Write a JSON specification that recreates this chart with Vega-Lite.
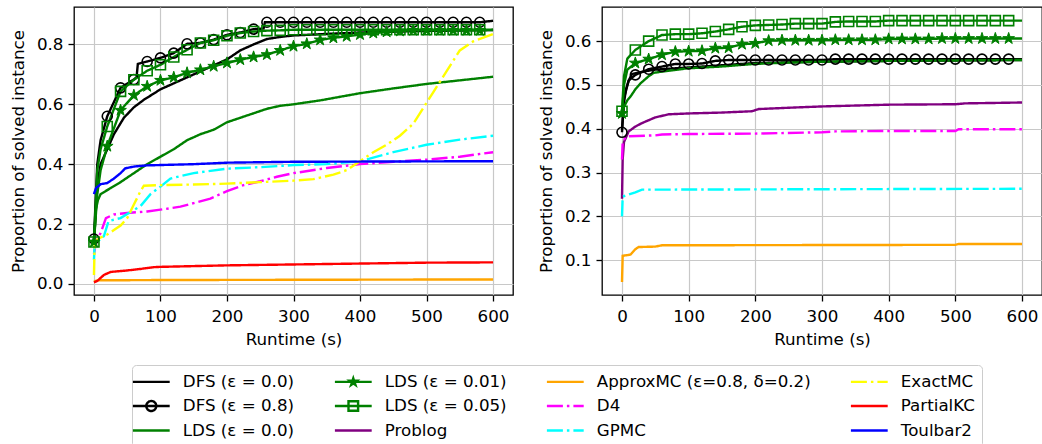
{
"$schema":"https://vega.github.io/schema/vega-lite/v6.json",
"padding":{"left":10,"top":6,"right":0,"bottom":0},
"config":{
 "font":"DejaVu Sans",
 "view":{"stroke":"black","strokeWidth":1.3},
 "axis":{"labelFont":"DejaVu Sans","labelFontSize":16.7,"labelColor":"black","titleFont":"DejaVu Sans","titleFontSize":16.7,"titleFontWeight":"normal","titleColor":"black","tickColor":"black","tickSize":6,"tickWidth":1.3,"domain":false,"gridColor":"#c8c8c8","gridWidth":1.2},
 "axisX":{"labelPadding":7,"titlePadding":7},
 "axisY":{"labelPadding":5,"titlePadding":8.5},
 "legend":{"labelFont":"DejaVu Sans","labelFontSize":16.7,"labelColor":"black"}
},
"data":{"name":"d"},
"datasets":{"d":[
{"g":"L","m":"DFS (ε = 0.0)","t":0,"p":0.14},{"g":"L","m":"DFS (ε = 0.0)","t":5,"p":0.33},{"g":"L","m":"DFS (ε = 0.0)","t":10,"p":0.40},{"g":"L","m":"DFS (ε = 0.0)","t":20,"p":0.45},{"g":"L","m":"DFS (ε = 0.0)","t":30,"p":0.50},{"g":"L","m":"DFS (ε = 0.0)","t":45,"p":0.555},{"g":"L","m":"DFS (ε = 0.0)","t":60,"p":0.59},{"g":"L","m":"DFS (ε = 0.0)","t":75,"p":0.615},{"g":"L","m":"DFS (ε = 0.0)","t":100,"p":0.65},{"g":"L","m":"DFS (ε = 0.0)","t":125,"p":0.675},{"g":"L","m":"DFS (ε = 0.0)","t":150,"p":0.70},{"g":"L","m":"DFS (ε = 0.0)","t":175,"p":0.725},{"g":"L","m":"DFS (ε = 0.0)","t":200,"p":0.75},{"g":"L","m":"DFS (ε = 0.0)","t":220,"p":0.78},{"g":"L","m":"DFS (ε = 0.0)","t":240,"p":0.80},{"g":"L","m":"DFS (ε = 0.0)","t":260,"p":0.818},{"g":"L","m":"DFS (ε = 0.0)","t":280,"p":0.825},{"g":"L","m":"DFS (ε = 0.0)","t":300,"p":0.83},{"g":"L","m":"DFS (ε = 0.0)","t":350,"p":0.835},{"g":"L","m":"DFS (ε = 0.0)","t":400,"p":0.84},{"g":"L","m":"DFS (ε = 0.0)","t":500,"p":0.845},{"g":"L","m":"DFS (ε = 0.0)","t":600,"p":0.848},
{"g":"L","m":"DFS (ε = 0.8)","t":0,"p":0.15,"k":1},{"g":"L","m":"DFS (ε = 0.8)","t":5,"p":0.40},{"g":"L","m":"DFS (ε = 0.8)","t":10,"p":0.48},{"g":"L","m":"DFS (ε = 0.8)","t":20,"p":0.56,"k":1},{"g":"L","m":"DFS (ε = 0.8)","t":40,"p":0.655,"k":1},{"g":"L","m":"DFS (ε = 0.8)","t":60,"p":0.683,"k":1},{"g":"L","m":"DFS (ε = 0.8)","t":64,"p":0.69},{"g":"L","m":"DFS (ε = 0.8)","t":66,"p":0.735},{"g":"L","m":"DFS (ε = 0.8)","t":80,"p":0.743,"k":1},{"g":"L","m":"DFS (ε = 0.8)","t":100,"p":0.755,"k":1},{"g":"L","m":"DFS (ε = 0.8)","t":120,"p":0.771,"k":1},{"g":"L","m":"DFS (ε = 0.8)","t":140,"p":0.802,"k":1},{"g":"L","m":"DFS (ε = 0.8)","t":160,"p":0.805,"k":1},{"g":"L","m":"DFS (ε = 0.8)","t":180,"p":0.816,"k":1},{"g":"L","m":"DFS (ε = 0.8)","t":200,"p":0.832,"k":1},{"g":"L","m":"DFS (ε = 0.8)","t":220,"p":0.84,"k":1},{"g":"L","m":"DFS (ε = 0.8)","t":240,"p":0.851,"k":1},{"g":"L","m":"DFS (ε = 0.8)","t":255,"p":0.853},{"g":"L","m":"DFS (ε = 0.8)","t":257,"p":0.874},{"g":"L","m":"DFS (ε = 0.8)","t":260,"p":0.874,"k":1},{"g":"L","m":"DFS (ε = 0.8)","t":280,"p":0.874,"k":1},{"g":"L","m":"DFS (ε = 0.8)","t":300,"p":0.874,"k":1},{"g":"L","m":"DFS (ε = 0.8)","t":320,"p":0.874,"k":1},{"g":"L","m":"DFS (ε = 0.8)","t":340,"p":0.874,"k":1},{"g":"L","m":"DFS (ε = 0.8)","t":360,"p":0.874,"k":1},{"g":"L","m":"DFS (ε = 0.8)","t":380,"p":0.874,"k":1},{"g":"L","m":"DFS (ε = 0.8)","t":400,"p":0.874,"k":1},{"g":"L","m":"DFS (ε = 0.8)","t":420,"p":0.874,"k":1},{"g":"L","m":"DFS (ε = 0.8)","t":440,"p":0.874,"k":1},{"g":"L","m":"DFS (ε = 0.8)","t":460,"p":0.874,"k":1},{"g":"L","m":"DFS (ε = 0.8)","t":480,"p":0.874,"k":1},{"g":"L","m":"DFS (ε = 0.8)","t":500,"p":0.874,"k":1},{"g":"L","m":"DFS (ε = 0.8)","t":520,"p":0.874,"k":1},{"g":"L","m":"DFS (ε = 0.8)","t":540,"p":0.874,"k":1},{"g":"L","m":"DFS (ε = 0.8)","t":560,"p":0.874,"k":1},{"g":"L","m":"DFS (ε = 0.8)","t":580,"p":0.874,"k":1},{"g":"L","m":"DFS (ε = 0.8)","t":600,"p":0.879},
{"g":"L","m":"LDS (ε = 0.0)","t":0,"p":0.14},{"g":"L","m":"LDS (ε = 0.0)","t":3,"p":0.25},{"g":"L","m":"LDS (ε = 0.0)","t":6,"p":0.28},{"g":"L","m":"LDS (ε = 0.0)","t":10,"p":0.30},{"g":"L","m":"LDS (ε = 0.0)","t":25,"p":0.32},{"g":"L","m":"LDS (ε = 0.0)","t":40,"p":0.34},{"g":"L","m":"LDS (ε = 0.0)","t":60,"p":0.37},{"g":"L","m":"LDS (ε = 0.0)","t":80,"p":0.40},{"g":"L","m":"LDS (ε = 0.0)","t":100,"p":0.425},{"g":"L","m":"LDS (ε = 0.0)","t":120,"p":0.45},{"g":"L","m":"LDS (ε = 0.0)","t":140,"p":0.48},{"g":"L","m":"LDS (ε = 0.0)","t":160,"p":0.50},{"g":"L","m":"LDS (ε = 0.0)","t":180,"p":0.515},{"g":"L","m":"LDS (ε = 0.0)","t":200,"p":0.54},{"g":"L","m":"LDS (ε = 0.0)","t":220,"p":0.555},{"g":"L","m":"LDS (ε = 0.0)","t":240,"p":0.57},{"g":"L","m":"LDS (ε = 0.0)","t":260,"p":0.585},{"g":"L","m":"LDS (ε = 0.0)","t":280,"p":0.595},{"g":"L","m":"LDS (ε = 0.0)","t":300,"p":0.60},{"g":"L","m":"LDS (ε = 0.0)","t":340,"p":0.613},{"g":"L","m":"LDS (ε = 0.0)","t":400,"p":0.637},{"g":"L","m":"LDS (ε = 0.0)","t":450,"p":0.653},{"g":"L","m":"LDS (ε = 0.0)","t":500,"p":0.668},{"g":"L","m":"LDS (ε = 0.0)","t":550,"p":0.68},{"g":"L","m":"LDS (ε = 0.0)","t":600,"p":0.692},
{"g":"L","m":"LDS (ε = 0.01)","t":0,"p":0.14,"k":1},{"g":"L","m":"LDS (ε = 0.01)","t":5,"p":0.30},{"g":"L","m":"LDS (ε = 0.01)","t":10,"p":0.38},{"g":"L","m":"LDS (ε = 0.01)","t":20,"p":0.46,"k":1},{"g":"L","m":"LDS (ε = 0.01)","t":40,"p":0.58,"k":1},{"g":"L","m":"LDS (ε = 0.01)","t":60,"p":0.63,"k":1},{"g":"L","m":"LDS (ε = 0.01)","t":80,"p":0.66,"k":1},{"g":"L","m":"LDS (ε = 0.01)","t":100,"p":0.68,"k":1},{"g":"L","m":"LDS (ε = 0.01)","t":120,"p":0.69,"k":1},{"g":"L","m":"LDS (ε = 0.01)","t":140,"p":0.705,"k":1},{"g":"L","m":"LDS (ε = 0.01)","t":160,"p":0.715,"k":1},{"g":"L","m":"LDS (ε = 0.01)","t":180,"p":0.727,"k":1},{"g":"L","m":"LDS (ε = 0.01)","t":200,"p":0.738,"k":1},{"g":"L","m":"LDS (ε = 0.01)","t":220,"p":0.749,"k":1},{"g":"L","m":"LDS (ε = 0.01)","t":240,"p":0.758,"k":1},{"g":"L","m":"LDS (ε = 0.01)","t":260,"p":0.766,"k":1},{"g":"L","m":"LDS (ε = 0.01)","t":280,"p":0.78,"k":1},{"g":"L","m":"LDS (ε = 0.01)","t":300,"p":0.794,"k":1},{"g":"L","m":"LDS (ε = 0.01)","t":320,"p":0.802,"k":1},{"g":"L","m":"LDS (ε = 0.01)","t":340,"p":0.815,"k":1},{"g":"L","m":"LDS (ε = 0.01)","t":360,"p":0.822,"k":1},{"g":"L","m":"LDS (ε = 0.01)","t":380,"p":0.827,"k":1},{"g":"L","m":"LDS (ε = 0.01)","t":400,"p":0.833,"k":1},{"g":"L","m":"LDS (ε = 0.01)","t":420,"p":0.838,"k":1},{"g":"L","m":"LDS (ε = 0.01)","t":440,"p":0.842,"k":1},{"g":"L","m":"LDS (ε = 0.01)","t":460,"p":0.845,"k":1},{"g":"L","m":"LDS (ε = 0.01)","t":480,"p":0.847,"k":1},{"g":"L","m":"LDS (ε = 0.01)","t":500,"p":0.847,"k":1},{"g":"L","m":"LDS (ε = 0.01)","t":520,"p":0.847,"k":1},{"g":"L","m":"LDS (ε = 0.01)","t":540,"p":0.847,"k":1},{"g":"L","m":"LDS (ε = 0.01)","t":560,"p":0.847,"k":1},{"g":"L","m":"LDS (ε = 0.01)","t":580,"p":0.847,"k":1},{"g":"L","m":"LDS (ε = 0.01)","t":600,"p":0.848},
{"g":"L","m":"LDS (ε = 0.05)","t":0,"p":0.14,"k":1},{"g":"L","m":"LDS (ε = 0.05)","t":5,"p":0.38},{"g":"L","m":"LDS (ε = 0.05)","t":10,"p":0.45},{"g":"L","m":"LDS (ε = 0.05)","t":20,"p":0.526,"k":1},{"g":"L","m":"LDS (ε = 0.05)","t":40,"p":0.643,"k":1},{"g":"L","m":"LDS (ε = 0.05)","t":60,"p":0.682,"k":1},{"g":"L","m":"LDS (ε = 0.05)","t":80,"p":0.712,"k":1},{"g":"L","m":"LDS (ε = 0.05)","t":100,"p":0.732,"k":1},{"g":"L","m":"LDS (ε = 0.05)","t":120,"p":0.758,"k":1},{"g":"L","m":"LDS (ε = 0.05)","t":140,"p":0.782,"k":1},{"g":"L","m":"LDS (ε = 0.05)","t":160,"p":0.805,"k":1},{"g":"L","m":"LDS (ε = 0.05)","t":180,"p":0.814,"k":1},{"g":"L","m":"LDS (ε = 0.05)","t":200,"p":0.829,"k":1},{"g":"L","m":"LDS (ε = 0.05)","t":220,"p":0.838,"k":1},{"g":"L","m":"LDS (ε = 0.05)","t":240,"p":0.843,"k":1},{"g":"L","m":"LDS (ε = 0.05)","t":260,"p":0.846,"k":1},{"g":"L","m":"LDS (ε = 0.05)","t":280,"p":0.847,"k":1},{"g":"L","m":"LDS (ε = 0.05)","t":300,"p":0.849,"k":1},{"g":"L","m":"LDS (ε = 0.05)","t":320,"p":0.849,"k":1},{"g":"L","m":"LDS (ε = 0.05)","t":340,"p":0.849,"k":1},{"g":"L","m":"LDS (ε = 0.05)","t":360,"p":0.849,"k":1},{"g":"L","m":"LDS (ε = 0.05)","t":380,"p":0.849,"k":1},{"g":"L","m":"LDS (ε = 0.05)","t":400,"p":0.849,"k":1},{"g":"L","m":"LDS (ε = 0.05)","t":420,"p":0.849,"k":1},{"g":"L","m":"LDS (ε = 0.05)","t":440,"p":0.849,"k":1},{"g":"L","m":"LDS (ε = 0.05)","t":460,"p":0.849,"k":1},{"g":"L","m":"LDS (ε = 0.05)","t":480,"p":0.849,"k":1},{"g":"L","m":"LDS (ε = 0.05)","t":500,"p":0.849,"k":1},{"g":"L","m":"LDS (ε = 0.05)","t":520,"p":0.849,"k":1},{"g":"L","m":"LDS (ε = 0.05)","t":540,"p":0.849,"k":1},{"g":"L","m":"LDS (ε = 0.05)","t":560,"p":0.849,"k":1},{"g":"L","m":"LDS (ε = 0.05)","t":580,"p":0.849,"k":1},{"g":"L","m":"LDS (ε = 0.05)","t":600,"p":0.849},
{"g":"L","m":"ApproxMC (ε=0.8, δ=0.2)","t":0,"p":0.008},{"g":"L","m":"ApproxMC (ε=0.8, δ=0.2)","t":5,"p":0.012},{"g":"L","m":"ApproxMC (ε=0.8, δ=0.2)","t":100,"p":0.013},{"g":"L","m":"ApproxMC (ε=0.8, δ=0.2)","t":600,"p":0.015},
{"g":"L","m":"D4","t":0,"p":0.10},{"g":"L","m":"D4","t":3,"p":0.14},{"g":"L","m":"D4","t":10,"p":0.17},{"g":"L","m":"D4","t":18,"p":0.22},{"g":"L","m":"D4","t":30,"p":0.232},{"g":"L","m":"D4","t":50,"p":0.237},{"g":"L","m":"D4","t":80,"p":0.242},{"g":"L","m":"D4","t":100,"p":0.248},{"g":"L","m":"D4","t":130,"p":0.258},{"g":"L","m":"D4","t":150,"p":0.27},{"g":"L","m":"D4","t":175,"p":0.285},{"g":"L","m":"D4","t":200,"p":0.31},{"g":"L","m":"D4","t":225,"p":0.33},{"g":"L","m":"D4","t":250,"p":0.343},{"g":"L","m":"D4","t":275,"p":0.358},{"g":"L","m":"D4","t":300,"p":0.37},{"g":"L","m":"D4","t":350,"p":0.387},{"g":"L","m":"D4","t":400,"p":0.40},{"g":"L","m":"D4","t":450,"p":0.408},{"g":"L","m":"D4","t":500,"p":0.415},{"g":"L","m":"D4","t":550,"p":0.425},{"g":"L","m":"D4","t":600,"p":0.44},
{"g":"L","m":"GPMC","t":0,"p":0.08},{"g":"L","m":"GPMC","t":1,"p":0.13},{"g":"L","m":"GPMC","t":5,"p":0.14},{"g":"L","m":"GPMC","t":15,"p":0.16},{"g":"L","m":"GPMC","t":22,"p":0.21},{"g":"L","m":"GPMC","t":40,"p":0.22},{"g":"L","m":"GPMC","t":55,"p":0.24},{"g":"L","m":"GPMC","t":70,"p":0.26},{"g":"L","m":"GPMC","t":85,"p":0.30},{"g":"L","m":"GPMC","t":100,"p":0.325},{"g":"L","m":"GPMC","t":115,"p":0.352},{"g":"L","m":"GPMC","t":130,"p":0.36},{"g":"L","m":"GPMC","t":150,"p":0.37},{"g":"L","m":"GPMC","t":200,"p":0.385},{"g":"L","m":"GPMC","t":250,"p":0.39},{"g":"L","m":"GPMC","t":300,"p":0.397},{"g":"L","m":"GPMC","t":350,"p":0.40},{"g":"L","m":"GPMC","t":400,"p":0.41},{"g":"L","m":"GPMC","t":450,"p":0.44},{"g":"L","m":"GPMC","t":500,"p":0.465},{"g":"L","m":"GPMC","t":550,"p":0.482},{"g":"L","m":"GPMC","t":600,"p":0.495},
{"g":"L","m":"ExactMC","t":0,"p":0.03},{"g":"L","m":"ExactMC","t":1,"p":0.13},{"g":"L","m":"ExactMC","t":3,"p":0.145},{"g":"L","m":"ExactMC","t":10,"p":0.155},{"g":"L","m":"ExactMC","t":20,"p":0.165},{"g":"L","m":"ExactMC","t":30,"p":0.18},{"g":"L","m":"ExactMC","t":40,"p":0.195},{"g":"L","m":"ExactMC","t":50,"p":0.22},{"g":"L","m":"ExactMC","t":60,"p":0.265},{"g":"L","m":"ExactMC","t":70,"p":0.31},{"g":"L","m":"ExactMC","t":75,"p":0.328},{"g":"L","m":"ExactMC","t":100,"p":0.33},{"g":"L","m":"ExactMC","t":150,"p":0.332},{"g":"L","m":"ExactMC","t":200,"p":0.335},{"g":"L","m":"ExactMC","t":250,"p":0.34},{"g":"L","m":"ExactMC","t":300,"p":0.345},{"g":"L","m":"ExactMC","t":330,"p":0.35},{"g":"L","m":"ExactMC","t":360,"p":0.365},{"g":"L","m":"ExactMC","t":380,"p":0.38},{"g":"L","m":"ExactMC","t":400,"p":0.41},{"g":"L","m":"ExactMC","t":420,"p":0.44},{"g":"L","m":"ExactMC","t":440,"p":0.465},{"g":"L","m":"ExactMC","t":460,"p":0.495},{"g":"L","m":"ExactMC","t":480,"p":0.535},{"g":"L","m":"ExactMC","t":500,"p":0.605},{"g":"L","m":"ExactMC","t":510,"p":0.64},{"g":"L","m":"ExactMC","t":530,"p":0.71},{"g":"L","m":"ExactMC","t":550,"p":0.78},{"g":"L","m":"ExactMC","t":570,"p":0.81},{"g":"L","m":"ExactMC","t":600,"p":0.835},
{"g":"L","m":"PartialKC","t":0,"p":0.005},{"g":"L","m":"PartialKC","t":5,"p":0.01},{"g":"L","m":"PartialKC","t":10,"p":0.02},{"g":"L","m":"PartialKC","t":15,"p":0.03},{"g":"L","m":"PartialKC","t":25,"p":0.04},{"g":"L","m":"PartialKC","t":50,"p":0.045},{"g":"L","m":"PartialKC","t":70,"p":0.05},{"g":"L","m":"PartialKC","t":90,"p":0.056},{"g":"L","m":"PartialKC","t":100,"p":0.057},{"g":"L","m":"PartialKC","t":200,"p":0.062},{"g":"L","m":"PartialKC","t":300,"p":0.065},{"g":"L","m":"PartialKC","t":400,"p":0.068},{"g":"L","m":"PartialKC","t":500,"p":0.071},{"g":"L","m":"PartialKC","t":600,"p":0.072},
{"g":"L","m":"Toulbar2","t":0,"p":0.30},{"g":"L","m":"Toulbar2","t":3,"p":0.32},{"g":"L","m":"Toulbar2","t":10,"p":0.333},{"g":"L","m":"Toulbar2","t":20,"p":0.337},{"g":"L","m":"Toulbar2","t":30,"p":0.352},{"g":"L","m":"Toulbar2","t":40,"p":0.37},{"g":"L","m":"Toulbar2","t":47,"p":0.386},{"g":"L","m":"Toulbar2","t":60,"p":0.392},{"g":"L","m":"Toulbar2","t":80,"p":0.396},{"g":"L","m":"Toulbar2","t":150,"p":0.40},{"g":"L","m":"Toulbar2","t":200,"p":0.405},{"g":"L","m":"Toulbar2","t":300,"p":0.408},{"g":"L","m":"Toulbar2","t":600,"p":0.41},
{"g":"R","m":"DFS (ε = 0.0)","t":0,"p":0.40},{"g":"R","m":"DFS (ε = 0.0)","t":3,"p":0.46},{"g":"R","m":"DFS (ε = 0.0)","t":6,"p":0.49},{"g":"R","m":"DFS (ε = 0.0)","t":10,"p":0.51},{"g":"R","m":"DFS (ε = 0.0)","t":15,"p":0.525},{"g":"R","m":"DFS (ε = 0.0)","t":30,"p":0.53},{"g":"R","m":"DFS (ε = 0.0)","t":50,"p":0.535},{"g":"R","m":"DFS (ε = 0.0)","t":100,"p":0.54},{"g":"R","m":"DFS (ε = 0.0)","t":150,"p":0.545},{"g":"R","m":"DFS (ε = 0.0)","t":200,"p":0.55},{"g":"R","m":"DFS (ε = 0.0)","t":300,"p":0.553},{"g":"R","m":"DFS (ε = 0.0)","t":400,"p":0.555},{"g":"R","m":"DFS (ε = 0.0)","t":600,"p":0.557},
{"g":"R","m":"DFS (ε = 0.8)","t":0,"p":0.392,"k":1},{"g":"R","m":"DFS (ε = 0.8)","t":3,"p":0.47},{"g":"R","m":"DFS (ε = 0.8)","t":10,"p":0.51},{"g":"R","m":"DFS (ε = 0.8)","t":20,"p":0.523,"k":1},{"g":"R","m":"DFS (ε = 0.8)","t":40,"p":0.536,"k":1},{"g":"R","m":"DFS (ε = 0.8)","t":60,"p":0.542,"k":1},{"g":"R","m":"DFS (ε = 0.8)","t":80,"p":0.548,"k":1},{"g":"R","m":"DFS (ε = 0.8)","t":100,"p":0.548,"k":1},{"g":"R","m":"DFS (ε = 0.8)","t":120,"p":0.549,"k":1},{"g":"R","m":"DFS (ε = 0.8)","t":140,"p":0.555,"k":1},{"g":"R","m":"DFS (ε = 0.8)","t":160,"p":0.557,"k":1},{"g":"R","m":"DFS (ε = 0.8)","t":180,"p":0.557,"k":1},{"g":"R","m":"DFS (ε = 0.8)","t":200,"p":0.557,"k":1},{"g":"R","m":"DFS (ε = 0.8)","t":220,"p":0.557,"k":1},{"g":"R","m":"DFS (ε = 0.8)","t":240,"p":0.557,"k":1},{"g":"R","m":"DFS (ε = 0.8)","t":260,"p":0.557,"k":1},{"g":"R","m":"DFS (ε = 0.8)","t":280,"p":0.557,"k":1},{"g":"R","m":"DFS (ε = 0.8)","t":300,"p":0.557,"k":1},{"g":"R","m":"DFS (ε = 0.8)","t":320,"p":0.559,"k":1},{"g":"R","m":"DFS (ε = 0.8)","t":340,"p":0.559,"k":1},{"g":"R","m":"DFS (ε = 0.8)","t":360,"p":0.559,"k":1},{"g":"R","m":"DFS (ε = 0.8)","t":380,"p":0.559,"k":1},{"g":"R","m":"DFS (ε = 0.8)","t":400,"p":0.559,"k":1},{"g":"R","m":"DFS (ε = 0.8)","t":420,"p":0.559,"k":1},{"g":"R","m":"DFS (ε = 0.8)","t":440,"p":0.559,"k":1},{"g":"R","m":"DFS (ε = 0.8)","t":460,"p":0.559,"k":1},{"g":"R","m":"DFS (ε = 0.8)","t":480,"p":0.559,"k":1},{"g":"R","m":"DFS (ε = 0.8)","t":500,"p":0.559,"k":1},{"g":"R","m":"DFS (ε = 0.8)","t":520,"p":0.559,"k":1},{"g":"R","m":"DFS (ε = 0.8)","t":540,"p":0.559,"k":1},{"g":"R","m":"DFS (ε = 0.8)","t":560,"p":0.559,"k":1},{"g":"R","m":"DFS (ε = 0.8)","t":580,"p":0.559,"k":1},{"g":"R","m":"DFS (ε = 0.8)","t":600,"p":0.559},
{"g":"R","m":"LDS (ε = 0.0)","t":0,"p":0.43},{"g":"R","m":"LDS (ε = 0.0)","t":3,"p":0.45},{"g":"R","m":"LDS (ε = 0.0)","t":8,"p":0.465},{"g":"R","m":"LDS (ε = 0.0)","t":13,"p":0.474},{"g":"R","m":"LDS (ε = 0.0)","t":20,"p":0.49},{"g":"R","m":"LDS (ε = 0.0)","t":28,"p":0.504},{"g":"R","m":"LDS (ε = 0.0)","t":40,"p":0.52},{"g":"R","m":"LDS (ε = 0.0)","t":48,"p":0.528},{"g":"R","m":"LDS (ε = 0.0)","t":78,"p":0.534},{"g":"R","m":"LDS (ε = 0.0)","t":98,"p":0.538},{"g":"R","m":"LDS (ε = 0.0)","t":148,"p":0.542},{"g":"R","m":"LDS (ε = 0.0)","t":198,"p":0.548},{"g":"R","m":"LDS (ε = 0.0)","t":248,"p":0.551},{"g":"R","m":"LDS (ε = 0.0)","t":298,"p":0.553},{"g":"R","m":"LDS (ε = 0.0)","t":400,"p":0.555},{"g":"R","m":"LDS (ε = 0.0)","t":600,"p":0.557},
{"g":"R","m":"LDS (ε = 0.01)","t":0,"p":0.435,"k":1},{"g":"R","m":"LDS (ε = 0.01)","t":3,"p":0.50},{"g":"R","m":"LDS (ε = 0.01)","t":8,"p":0.535},{"g":"R","m":"LDS (ε = 0.01)","t":20,"p":0.55,"k":1},{"g":"R","m":"LDS (ε = 0.01)","t":40,"p":0.559,"k":1},{"g":"R","m":"LDS (ε = 0.01)","t":60,"p":0.569,"k":1},{"g":"R","m":"LDS (ε = 0.01)","t":80,"p":0.576,"k":1},{"g":"R","m":"LDS (ε = 0.01)","t":100,"p":0.577,"k":1},{"g":"R","m":"LDS (ε = 0.01)","t":120,"p":0.578,"k":1},{"g":"R","m":"LDS (ε = 0.01)","t":140,"p":0.584,"k":1},{"g":"R","m":"LDS (ε = 0.01)","t":160,"p":0.585,"k":1},{"g":"R","m":"LDS (ε = 0.01)","t":180,"p":0.593,"k":1},{"g":"R","m":"LDS (ε = 0.01)","t":200,"p":0.595,"k":1},{"g":"R","m":"LDS (ε = 0.01)","t":220,"p":0.601,"k":1},{"g":"R","m":"LDS (ε = 0.01)","t":240,"p":0.602,"k":1},{"g":"R","m":"LDS (ε = 0.01)","t":260,"p":0.602,"k":1},{"g":"R","m":"LDS (ε = 0.01)","t":280,"p":0.602,"k":1},{"g":"R","m":"LDS (ε = 0.01)","t":300,"p":0.602,"k":1},{"g":"R","m":"LDS (ε = 0.01)","t":320,"p":0.603,"k":1},{"g":"R","m":"LDS (ε = 0.01)","t":340,"p":0.603,"k":1},{"g":"R","m":"LDS (ε = 0.01)","t":360,"p":0.603,"k":1},{"g":"R","m":"LDS (ε = 0.01)","t":380,"p":0.603,"k":1},{"g":"R","m":"LDS (ε = 0.01)","t":400,"p":0.605,"k":1},{"g":"R","m":"LDS (ε = 0.01)","t":420,"p":0.605,"k":1},{"g":"R","m":"LDS (ε = 0.01)","t":440,"p":0.605,"k":1},{"g":"R","m":"LDS (ε = 0.01)","t":460,"p":0.605,"k":1},{"g":"R","m":"LDS (ε = 0.01)","t":480,"p":0.606,"k":1},{"g":"R","m":"LDS (ε = 0.01)","t":500,"p":0.606,"k":1},{"g":"R","m":"LDS (ε = 0.01)","t":520,"p":0.606,"k":1},{"g":"R","m":"LDS (ε = 0.01)","t":540,"p":0.606,"k":1},{"g":"R","m":"LDS (ε = 0.01)","t":560,"p":0.606,"k":1},{"g":"R","m":"LDS (ε = 0.01)","t":580,"p":0.606,"k":1},{"g":"R","m":"LDS (ε = 0.01)","t":600,"p":0.606},
{"g":"R","m":"LDS (ε = 0.05)","t":0,"p":0.44,"k":1},{"g":"R","m":"LDS (ε = 0.05)","t":3,"p":0.52},{"g":"R","m":"LDS (ε = 0.05)","t":8,"p":0.56},{"g":"R","m":"LDS (ε = 0.05)","t":20,"p":0.58,"k":1},{"g":"R","m":"LDS (ε = 0.05)","t":40,"p":0.60,"k":1},{"g":"R","m":"LDS (ε = 0.05)","t":60,"p":0.614,"k":1},{"g":"R","m":"LDS (ε = 0.05)","t":80,"p":0.616,"k":1},{"g":"R","m":"LDS (ε = 0.05)","t":100,"p":0.616,"k":1},{"g":"R","m":"LDS (ε = 0.05)","t":120,"p":0.618,"k":1},{"g":"R","m":"LDS (ε = 0.05)","t":140,"p":0.622,"k":1},{"g":"R","m":"LDS (ε = 0.05)","t":160,"p":0.627,"k":1},{"g":"R","m":"LDS (ε = 0.05)","t":180,"p":0.633,"k":1},{"g":"R","m":"LDS (ε = 0.05)","t":200,"p":0.636,"k":1},{"g":"R","m":"LDS (ε = 0.05)","t":220,"p":0.637,"k":1},{"g":"R","m":"LDS (ε = 0.05)","t":240,"p":0.638,"k":1},{"g":"R","m":"LDS (ε = 0.05)","t":260,"p":0.64,"k":1},{"g":"R","m":"LDS (ε = 0.05)","t":280,"p":0.64,"k":1},{"g":"R","m":"LDS (ε = 0.05)","t":300,"p":0.64,"k":1},{"g":"R","m":"LDS (ε = 0.05)","t":320,"p":0.644,"k":1},{"g":"R","m":"LDS (ε = 0.05)","t":340,"p":0.645,"k":1},{"g":"R","m":"LDS (ε = 0.05)","t":360,"p":0.645,"k":1},{"g":"R","m":"LDS (ε = 0.05)","t":380,"p":0.645,"k":1},{"g":"R","m":"LDS (ε = 0.05)","t":400,"p":0.647,"k":1},{"g":"R","m":"LDS (ε = 0.05)","t":420,"p":0.647,"k":1},{"g":"R","m":"LDS (ε = 0.05)","t":440,"p":0.647,"k":1},{"g":"R","m":"LDS (ε = 0.05)","t":460,"p":0.647,"k":1},{"g":"R","m":"LDS (ε = 0.05)","t":480,"p":0.647,"k":1},{"g":"R","m":"LDS (ε = 0.05)","t":500,"p":0.647,"k":1},{"g":"R","m":"LDS (ε = 0.05)","t":520,"p":0.647,"k":1},{"g":"R","m":"LDS (ε = 0.05)","t":540,"p":0.647,"k":1},{"g":"R","m":"LDS (ε = 0.05)","t":560,"p":0.647,"k":1},{"g":"R","m":"LDS (ε = 0.05)","t":580,"p":0.647,"k":1},{"g":"R","m":"LDS (ε = 0.05)","t":600,"p":0.647},
{"g":"R","m":"Problog","t":0,"p":0.24},{"g":"R","m":"Problog","t":1,"p":0.33},{"g":"R","m":"Problog","t":3,"p":0.37},{"g":"R","m":"Problog","t":10,"p":0.394},{"g":"R","m":"Problog","t":20,"p":0.405},{"g":"R","m":"Problog","t":30,"p":0.413},{"g":"R","m":"Problog","t":50,"p":0.426},{"g":"R","m":"Problog","t":70,"p":0.433},{"g":"R","m":"Problog","t":100,"p":0.435},{"g":"R","m":"Problog","t":150,"p":0.437},{"g":"R","m":"Problog","t":195,"p":0.44},{"g":"R","m":"Problog","t":205,"p":0.445},{"g":"R","m":"Problog","t":250,"p":0.448},{"g":"R","m":"Problog","t":300,"p":0.451},{"g":"R","m":"Problog","t":350,"p":0.453},{"g":"R","m":"Problog","t":400,"p":0.455},{"g":"R","m":"Problog","t":500,"p":0.456},{"g":"R","m":"Problog","t":515,"p":0.458},{"g":"R","m":"Problog","t":560,"p":0.459},{"g":"R","m":"Problog","t":600,"p":0.46},
{"g":"R","m":"ApproxMC (ε=0.8, δ=0.2)","t":0,"p":0.05},{"g":"R","m":"ApproxMC (ε=0.8, δ=0.2)","t":1,"p":0.11},{"g":"R","m":"ApproxMC (ε=0.8, δ=0.2)","t":10,"p":0.112},{"g":"R","m":"ApproxMC (ε=0.8, δ=0.2)","t":13,"p":0.113},{"g":"R","m":"ApproxMC (ε=0.8, δ=0.2)","t":20,"p":0.125},{"g":"R","m":"ApproxMC (ε=0.8, δ=0.2)","t":25,"p":0.13},{"g":"R","m":"ApproxMC (ε=0.8, δ=0.2)","t":50,"p":0.131},{"g":"R","m":"ApproxMC (ε=0.8, δ=0.2)","t":60,"p":0.134},{"g":"R","m":"ApproxMC (ε=0.8, δ=0.2)","t":500,"p":0.135},{"g":"R","m":"ApproxMC (ε=0.8, δ=0.2)","t":505,"p":0.137},{"g":"R","m":"ApproxMC (ε=0.8, δ=0.2)","t":600,"p":0.137},
{"g":"R","m":"D4","t":0,"p":0.33},{"g":"R","m":"D4","t":1,"p":0.37},{"g":"R","m":"D4","t":5,"p":0.38},{"g":"R","m":"D4","t":10,"p":0.383},{"g":"R","m":"D4","t":50,"p":0.385},{"g":"R","m":"D4","t":60,"p":0.387},{"g":"R","m":"D4","t":100,"p":0.388},{"g":"R","m":"D4","t":200,"p":0.389},{"g":"R","m":"D4","t":300,"p":0.392},{"g":"R","m":"D4","t":320,"p":0.394},{"g":"R","m":"D4","t":400,"p":0.395},{"g":"R","m":"D4","t":500,"p":0.395},{"g":"R","m":"D4","t":505,"p":0.399},{"g":"R","m":"D4","t":600,"p":0.399},
{"g":"R","m":"GPMC","t":0,"p":0.20},{"g":"R","m":"GPMC","t":1,"p":0.245},{"g":"R","m":"GPMC","t":10,"p":0.25},{"g":"R","m":"GPMC","t":20,"p":0.255},{"g":"R","m":"GPMC","t":30,"p":0.261},{"g":"R","m":"GPMC","t":300,"p":0.262},{"g":"R","m":"GPMC","t":600,"p":0.263}
]},
"resolve":{"scale":{"color":"shared","strokeDash":"shared"},"legend":{"color":"shared","strokeDash":"shared"}},
"hconcat":[
{"width":439,"height":288,
 "transform":[{"filter":"datum.g==='L'"}],
 "encoding":{
  "x":{"field":"t","type":"quantitative","scale":{"domain":[-30,630],"nice":false,"zero":false},"axis":{"values":[0,100,200,300,400,500,600],"title":"Runtime (s)"}},
  "y":{"field":"p","type":"quantitative","scale":{"domain":[-0.037,0.925],"nice":false,"zero":false},"axis":{"values":[0,0.2,0.4,0.6,0.8],"format":".1f","title":"Proportion of solved instance"}}
 },
 "layer":[
  {"mark":{"type":"line","strokeWidth":2.4},
   "encoding":{
    "color":{"field":"m","type":"nominal","scale":{"domain":["DFS (ε = 0.0)","DFS (ε = 0.8)","LDS (ε = 0.0)","LDS (ε = 0.01)","LDS (ε = 0.05)","Problog","ApproxMC (ε=0.8, δ=0.2)","D4","GPMC","ExactMC","PartialKC","Toulbar2"],"range":["#000000","#000000","#008000","#008000","#008000","#800080","#FFA500","#FF00FF","#00FFFF","#FFFF00","#FF0000","#0000FF"]},
     "legend":{"title":null,"orient":"none","legendX":58,"legendY":358,"columns":4,"columnPadding":35,"rowPadding":4.5,"symbolSize":256,"symbolStrokeWidth":2.4,"symbolType":"stroke","labelOffset":24.8,"padding":7,"strokeColor":"#cccccc","fillColor":"white","cornerRadius":4,"labelLimit":400,
      "encode":{"symbols":{"update":{
       "shape":{"signal":"datum.value === 'DFS (ε = 0.8)' ? 'M-1.95,0H2.65M0.975,0A0.625,0.625,0,1,1,-0.275,0A0.625,0.625,0,1,1,0.975,0' : datum.value === 'LDS (ε = 0.05)' ? 'M-1.95,0H2.65M-0.25,-0.6H0.95V0.6H-0.25Z' : datum.value === 'LDS (ε = 0.01)' ? 'M-1.95,0H2.65M0.35,-0.45L0.451,-0.139L0.778,-0.139L0.5135,0.0531L0.6145,0.364L0.35,0.1719L0.0855,0.364L0.1865,0.0531L-0.078,-0.139L0.249,-0.139Z' : 'M-1.95,0H2.65'"},
       "fill":{"signal":"datum.value === 'LDS (ε = 0.01)' ? '#008000' : 'transparent'"},
       "fillOpacity":{"value":1}}}}}},
    "strokeDash":{"field":"m","type":"nominal","scale":{"domain":["DFS (ε = 0.0)","DFS (ε = 0.8)","LDS (ε = 0.0)","LDS (ε = 0.01)","LDS (ε = 0.05)","Problog","ApproxMC (ε=0.8, δ=0.2)","D4","GPMC","ExactMC","PartialKC","Toulbar2"],"range":[[1,0],[1,0],[1,0],[1,0],[1,0],[1,0],[1,0],[16,4,2.5,4],[16,4,2.5,4],[16,4,2.5,4],[1,0],[1,0]]}}
   }},
  {"transform":[{"filter":"datum.k===1 && datum.m==='DFS (ε = 0.8)'"}],"mark":{"type":"point","shape":"circle","filled":false,"stroke":"#000000","size":100,"strokeWidth":1.6,"opacity":1}},
  {"transform":[{"filter":"datum.k===1 && datum.m==='LDS (ε = 0.01)'"}],"mark":{"type":"point","shape":"M0,-1L0.2245,-0.309L0.9511,-0.309L0.3633,0.118L0.5878,0.809L0,0.382L-0.5878,0.809L-0.3633,0.118L-0.9511,-0.309L-0.2245,-0.309Z","filled":true,"fill":"#008000","stroke":"#008000","size":150,"strokeWidth":1,"opacity":1}},
  {"transform":[{"filter":"datum.k===1 && datum.m==='LDS (ε = 0.05)'"}],"mark":{"type":"point","shape":"square","filled":false,"stroke":"#008000","size":100,"strokeWidth":1.6,"opacity":1}}
 ]},
{"width":440,"height":288,
 "transform":[{"filter":"datum.g==='R'"}],
 "encoding":{
  "x":{"field":"t","type":"quantitative","scale":{"domain":[-30,630],"nice":false,"zero":false},"axis":{"values":[0,100,200,300,400,500,600],"title":"Runtime (s)"}},
  "y":{"field":"p","type":"quantitative","scale":{"domain":[0.0205,0.678],"nice":false,"zero":false},"axis":{"values":[0.1,0.2,0.3,0.4,0.5,0.6],"format":".1f","title":"Proportion of solved instance"}}
 },
 "layer":[
  {"mark":{"type":"line","strokeWidth":2.4},
   "encoding":{
    "color":{"field":"m","type":"nominal","scale":{"domain":["DFS (ε = 0.0)","DFS (ε = 0.8)","LDS (ε = 0.0)","LDS (ε = 0.01)","LDS (ε = 0.05)","Problog","ApproxMC (ε=0.8, δ=0.2)","D4","GPMC","ExactMC","PartialKC","Toulbar2"],"range":["#000000","#000000","#008000","#008000","#008000","#800080","#FFA500","#FF00FF","#00FFFF","#FFFF00","#FF0000","#0000FF"]}},
    "strokeDash":{"field":"m","type":"nominal","scale":{"domain":["DFS (ε = 0.0)","DFS (ε = 0.8)","LDS (ε = 0.0)","LDS (ε = 0.01)","LDS (ε = 0.05)","Problog","ApproxMC (ε=0.8, δ=0.2)","D4","GPMC","ExactMC","PartialKC","Toulbar2"],"range":[[1,0],[1,0],[1,0],[1,0],[1,0],[1,0],[1,0],[16,4,2.5,4],[16,4,2.5,4],[16,4,2.5,4],[1,0],[1,0]]}}
   }},
  {"transform":[{"filter":"datum.k===1 && datum.m==='DFS (ε = 0.8)'"}],"mark":{"type":"point","shape":"circle","filled":false,"stroke":"#000000","size":100,"strokeWidth":1.6,"opacity":1}},
  {"transform":[{"filter":"datum.k===1 && datum.m==='LDS (ε = 0.01)'"}],"mark":{"type":"point","shape":"M0,-1L0.2245,-0.309L0.9511,-0.309L0.3633,0.118L0.5878,0.809L0,0.382L-0.5878,0.809L-0.3633,0.118L-0.9511,-0.309L-0.2245,-0.309Z","filled":true,"fill":"#008000","stroke":"#008000","size":150,"strokeWidth":1,"opacity":1}},
  {"transform":[{"filter":"datum.k===1 && datum.m==='LDS (ε = 0.05)'"}],"mark":{"type":"point","shape":"square","filled":false,"stroke":"#008000","size":100,"strokeWidth":1.6,"opacity":1}}
 ]}
],
"spacing":24
}
